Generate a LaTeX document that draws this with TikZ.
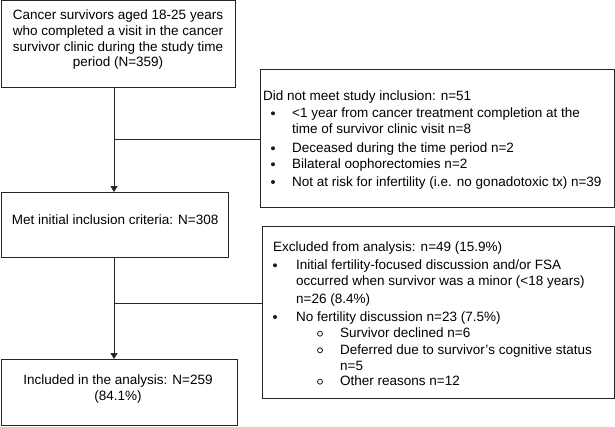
\documentclass[tikz,border=0pt]{standalone}
\usepackage{fontspec}
\setmainfont{Liberation Sans}
\usetikzlibrary{arrows.meta}
\begin{document}
\begin{tikzpicture}[x=1pt,y=-1pt,
  box/.style={draw=black!85,line width=1pt,rectangle,inner sep=0pt},
  txt/.style={anchor=base west,inner sep=0pt,font=\fontsize{13.5}{15.5}\selectfont},
  ctxt/.style={anchor=base,inner sep=0pt,font=\fontsize{13.5}{15.5}\selectfont},
  bul/.style={circle,fill=black!90,inner sep=0pt,minimum size=4pt},
  sbul/.style={circle,draw=black!90,line width=0.8pt,inner sep=0pt,minimum size=5pt},
  conn/.style={line width=0.8pt,black!85},
  arr/.style={conn,-{Triangle[width=7pt,length=6pt]}}]
\useasboundingbox (0,0) rectangle (615,426);
% boxes
\draw[box] (1,0.5) rectangle (235,87); \coordinate (b1s) at (114,87);
\draw[box] (1,192) rectangle (228,257);
\coordinate (b2n) at (114,192); \coordinate (b2s) at (114,257);
\draw[box] (260,69) rectangle (614,207); \coordinate (b3w) at (260,139);
\draw[box] (262,226) rectangle (614,398); \coordinate (b4w) at (262,303);
\draw[box] (1,359) rectangle (237,425); \coordinate (b5n) at (114,359);
% box 1 text
\node[ctxt] (t11) at (118,19.5) {Cancer survivors aged 18-25 years};
\node[ctxt] (t12) at (118,35) {who completed a visit in the cancer};
\node[ctxt] (t13) at (118,51) {survivor clinic during the study time};
\node[ctxt] (t14) at (118,66.5) {period (N=359)};
% box 2
\node[txt] (t21) at (11.7,224.3) {Met initial inclusion criteria: N=308};
% box 3
\node[txt] (t30) at (263,100.7) {Did not meet study inclusion: n=51};
\node[bul] (u31) at (273,113.3) {};
\node[txt] (t31) at (292,117.3) {<1 year from cancer treatment completion at the};
\node[txt] (t31b) at (292,133.3) {time of survivor clinic visit n=8};
\node[bul] (u32) at (273,148.3) {};
\node[txt] (t32) at (292,152.3) {Deceased during the time period n=2};
\node[bul] (u33) at (273,164.3) {};
\node[txt] (t33) at (292,168.3) {Bilateral oophorectomies n=2};
\node[bul] (u34) at (273,182) {};
\node[txt] (t34) at (292,186) {Not at risk for infertility (i.e. no gonadotoxic tx) n=39};
% box 4
\node[txt] (t40) at (273,251.7) {Excluded from analysis: n=49 (15.9\%)};
\node[bul] (u41) at (275,265.3) {};
\node[txt] (t41) at (296,269.3) {Initial fertility-focused discussion and/or FSA};
\node[txt] (t41b) at (296,285.7) {occurred when survivor was a minor (<18 years)};
\node[txt] (t41c) at (296,303) {n=26 (8.4\%)};
\node[bul] (u42) at (275,317) {};
\node[txt] (t42) at (296,321) {No fertility discussion n=23 (7.5\%)};
\node[sbul] (v1) at (320,333.7) {};
\node[txt] (s1) at (340,337.7) {Survivor declined n=6};
\node[sbul] (v2) at (320,350.3) {};
\node[txt] (s2) at (340,354.3) {Deferred due to survivor’s cognitive status};
\node[txt] (s2b) at (340,370) {n=5};
\node[sbul] (v3) at (320,381.7) {};
\node[txt] (s3) at (340,385.7) {Other reasons n=12};
% box 5
\node[ctxt] (t51) at (118,384) {Included in the analysis: N=259};
\node[ctxt] (t52) at (118,400) {(84.1\%)};
% connectors
\coordinate (j1) at (114,139);
\coordinate (j2) at (114,303);
\draw[arr] (b1s) -- (b2n);
\draw[conn] (j1) -- (b3w);
\draw[arr] (b2s) -- (b5n);
\draw[conn] (j2) -- (b4w);
\end{tikzpicture}
\end{document}
